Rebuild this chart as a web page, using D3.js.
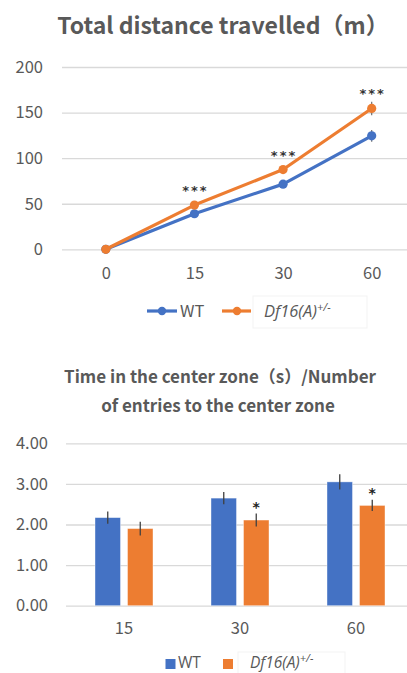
<!DOCTYPE html>
<html><head><meta charset="utf-8">
<script src="https://cdn.jsdelivr.net/npm/d3@7"></script>
<style>body{margin:0;background:#fff}svg{display:block}</style>
</head><body>
<svg id="c" width="407" height="673"></svg>
<script>
// ---- data ----
const lineCats = ["0","15","30","60"];
const wtDist = [0, 39, 71.5, 124.5];
const wtDistErr = [0, 2, 2.5, 6.5];
const dfDist = [0, 48.5, 87.5, 154.5];
const dfDistErr = [0, 2, 2.5, 7.5];
const distStars = ["", "***", "***", "***"];
const distTicks = [0, 50, 100, 150, 200];

const barCats = ["15","30","60"];
const wtRatio = [2.17, 2.65, 3.05];
const wtRatioErr = [0.15, 0.15, 0.19];
const dfRatio = [1.90, 2.11, 2.47];
const dfRatioErr = [0.17, 0.16, 0.14];
const ratioStars = ["", "*", "*"];
const ratioTicks = [0, 1, 2, 3, 4];

const seriesNames = ["WT", "Df16(A)", "+/-"];
const BLUE = "#4472C4", ORANGE = "#ED7D31", GRID = "#d9d9d9", TXT = "#595959";
const FONT = "'Noto Sans CJK JP','Noto Sans',sans-serif";

const svg = d3.select("#c").style("font-family", FONT);

// ===== Top chart =====
svg.append("text").attr("x", 223).attr("y", 34).attr("text-anchor","middle")
  .attr("font-size", 23).attr("font-weight","bold").attr("fill", TXT)
  .text("Total distance travelled（m）");

const y1 = d3.scaleLinear().domain([0,200]).range([249.3, 67]);
const x1 = d3.scalePoint().domain(lineCats).range([61.5, 416]).padding(0.5);

const g1 = svg.append("g");
const ay1 = g1.append("g").attr("transform","translate(62,0)")
  .call(d3.axisLeft(y1).tickValues(distTicks).tickSize(-360).tickPadding(19));
ay1.select(".domain").remove();
ay1.selectAll(".tick line").attr("stroke", GRID).attr("stroke-width", 1.3);
ay1.selectAll(".tick text").attr("fill", TXT).attr("font-size", 16.5).attr("font-family", FONT);

const ax1 = g1.append("g").attr("transform","translate(0,263)")
  .call(d3.axisBottom(x1).tickSize(0).tickPadding(4));
ax1.select(".domain").remove();
ax1.selectAll(".tick text").attr("fill", TXT).attr("font-size", 16.5).attr("font-family", FONT);

function drawSeries(vals, errs, color){
  const line = d3.line().x((d,i)=>x1(lineCats[i])).y(d=>y1(d));
  g1.append("path").datum(vals).attr("d", line).attr("fill","none")
    .attr("stroke", color).attr("stroke-width", 3.2).attr("stroke-linejoin","round");
  g1.selectAll(null).data(vals).enter().append("line")
    .attr("x1",(d,i)=>x1(lineCats[i])).attr("x2",(d,i)=>x1(lineCats[i]))
    .attr("y1",(d,i)=>y1(d+errs[i])).attr("y2",(d,i)=>y1(d-errs[i]))
    .attr("stroke","#6f6f6f").attr("stroke-width",1.2);
  g1.selectAll(null).data(vals).enter().append("circle")
    .attr("cx",(d,i)=>x1(lineCats[i])).attr("cy",d=>y1(d)).attr("r",4.6).attr("fill",color);
}
drawSeries(wtDist, wtDistErr, BLUE);
drawSeries(dfDist, dfDistErr, ORANGE);

g1.selectAll(null).data(distStars).enter().append("text")
  .attr("x",(d,i)=>x1(lineCats[i]) + 1).attr("y",(d,i)=>y1(dfDist[i]) - 10)
  .attr("text-anchor","middle").attr("font-size",13).attr("font-weight","bold").attr("fill","#333")
  .attr("font-family","'DejaVu Sans',sans-serif").attr("letter-spacing", 2)
  .text(d=>d);

// legend top
const lg1 = svg.append("g");
lg1.append("rect").attr("x",253).attr("y",296).attr("width",114).attr("height",32)
  .attr("fill","none").attr("stroke","#f3f3f3");
lg1.append("line").attr("x1",147).attr("x2",177).attr("y1",311).attr("y2",311).attr("stroke",BLUE).attr("stroke-width",3.2);
lg1.append("circle").attr("cx",162).attr("cy",311).attr("r",4.2).attr("fill",BLUE);
lg1.append("text").attr("x",180).attr("y",317).attr("font-size",16.5).attr("fill",TXT).text(seriesNames[0]);
lg1.append("line").attr("x1",222).attr("x2",251).attr("y1",311).attr("y2",311).attr("stroke",ORANGE).attr("stroke-width",3.2);
lg1.append("circle").attr("cx",237).attr("cy",311).attr("r",4.2).attr("fill",ORANGE);
const t1 = lg1.append("text").attr("x",264).attr("y",317).attr("font-size",16.5).attr("fill",TXT)
  .attr("font-style","italic").attr("font-family","'Open Sans',sans-serif");
t1.append("tspan").text(seriesNames[1]);
t1.append("tspan").attr("dy",-6).attr("font-size",11).text(seriesNames[2]);

// ===== Bottom chart =====
svg.append("text").attr("x", 220).attr("y", 383).attr("text-anchor","middle")
  .attr("font-size", 17).attr("font-weight","bold").attr("fill", TXT)
  .text("Time in the center zone（s）/Number");
svg.append("text").attr("x", 218).attr("y", 412).attr("text-anchor","middle")
  .attr("font-size", 17).attr("font-weight","bold").attr("fill", TXT)
  .text("of entries to the center zone");

const y2 = d3.scaleLinear().domain([0,4]).range([605.7, 443.3]);
const x2 = d3.scaleBand().domain(barCats).range([66, 414]);
const bw = 25.5, gap = 7;

const g2 = svg.append("g");
const ay2 = g2.append("g").attr("transform","translate(66,0)")
  .call(d3.axisLeft(y2).tickValues(ratioTicks).tickFormat(d3.format(".2f")).tickSize(-350).tickPadding(18));
ay2.select(".domain").remove();
ay2.selectAll(".tick line").attr("stroke", GRID).attr("stroke-width", 1.3);
ay2.selectAll(".tick text").attr("fill", TXT).attr("font-size", 16.5).attr("font-family", FONT);

const ax2 = g2.append("g").attr("transform","translate(0,618)")
  .call(d3.axisBottom(x2).tickSize(0).tickPadding(4));
ax2.select(".domain").remove();
ax2.selectAll(".tick text").attr("fill", TXT).attr("font-size", 16.5).attr("font-family", FONT);

function drawBars(vals, errs, color, off){
  const cx = (i)=> x2(barCats[i]) + x2.bandwidth()/2 + off;
  g2.selectAll(null).data(vals).enter().append("rect")
    .attr("x",(d,i)=>cx(i)-bw/2).attr("width",bw)
    .attr("y",d=>y2(d)).attr("height",d=>y2(0)-y2(d))
    .attr("fill",color).attr("stroke","#fff").attr("stroke-opacity",0.5).attr("stroke-width",0.8);
  g2.selectAll(null).data(vals).enter().append("line")
    .attr("x1",(d,i)=>cx(i)).attr("x2",(d,i)=>cx(i))
    .attr("y1",(d,i)=>y2(d+errs[i])).attr("y2",(d,i)=>y2(d-errs[i]))
    .attr("stroke","#404040").attr("stroke-width",1.3);
}
drawBars(wtRatio, wtRatioErr, BLUE, -(bw+gap)/2);
drawBars(dfRatio, dfRatioErr, ORANGE, (bw+gap)/2);

g2.selectAll(null).data(ratioStars).enter().append("text")
  .attr("x",(d,i)=>x2(barCats[i]) + x2.bandwidth()/2 + (bw+gap)/2)
  .attr("y",(d,i)=>y2(dfRatio[i]+dfRatioErr[i]) - 2)
  .attr("text-anchor","middle").attr("font-size",14).attr("font-weight","bold").attr("fill","#222")
  .attr("font-family","'DejaVu Sans',sans-serif").text(d=>d);

// legend bottom
const lg2 = svg.append("g");
lg2.append("rect").attr("x",238).attr("y",652).attr("width",107).attr("height",30)
  .attr("fill","none").attr("stroke","#f3f3f3");
lg2.append("rect").attr("x",165.5).attr("y",659).attr("width",10).attr("height",10).attr("fill",BLUE);
lg2.append("text").attr("x",178).attr("y",668).attr("font-size",15.5).attr("fill",TXT)
  .attr("font-family","'Open Sans',sans-serif").text(seriesNames[0]);
lg2.append("rect").attr("x",223).attr("y",659).attr("width",10).attr("height",10).attr("fill",ORANGE);
const t2 = lg2.append("text").attr("x",250).attr("y",668).attr("font-size",15.5).attr("fill",TXT)
  .attr("font-style","italic").attr("font-family","'Open Sans',sans-serif");
t2.append("tspan").text(seriesNames[1]);
t2.append("tspan").attr("dy",-6).attr("font-size",11).text(seriesNames[2]);
</script>
</body></html>
